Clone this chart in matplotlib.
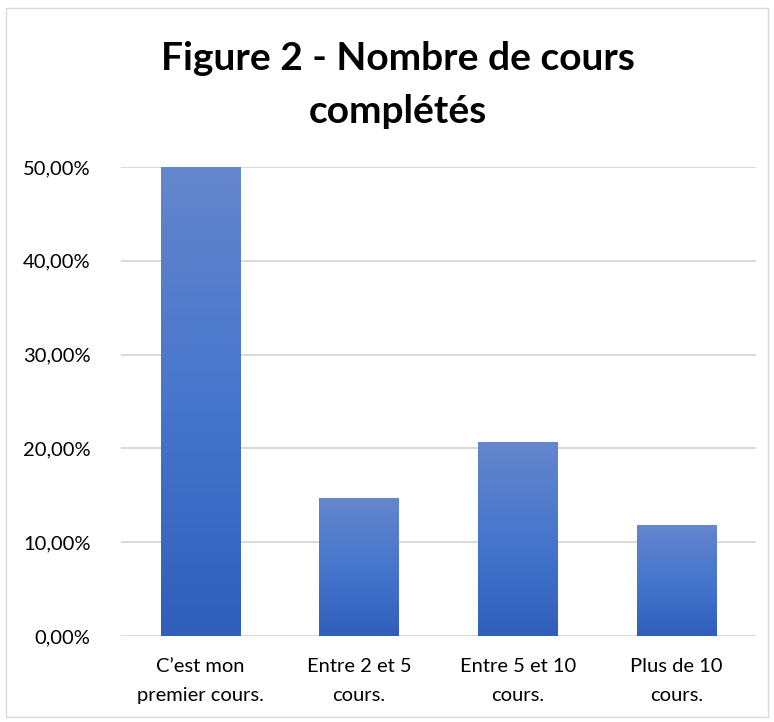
import numpy as np
import matplotlib.pyplot as plt
from matplotlib.colors import LinearSegmentedColormap
from matplotlib.patches import Rectangle
from matplotlib.ticker import FuncFormatter

categories = ["C\u2019est mon\npremier cours.", "Entre 2 et 5\ncours.",
              "Entre 5 et 10\ncours.", "Plus de 10\ncours."]
values = [0.50, 0.1471, 0.2059, 0.1176]
title = "Figure 2 - Nombre de cours\ncomplétés"

plt.rcParams['font.family'] = ['Lato', 'DejaVu Sans']

fig = plt.figure(figsize=(7.74, 7.22), dpi=100)
fig.patches.append(Rectangle((6/774, 1 - 717/722), 762/774, 709/722,
                             transform=fig.transFigure, fill=False,
                             edgecolor='#D9D9D9', linewidth=1.0))
ax = fig.add_axes([121/774, 1 - 636/722, 635/774, 469/722])

x = np.arange(len(values))
bars = ax.bar(x, values, width=0.5, color='none', edgecolor='none')

cmap = LinearSegmentedColormap.from_list('xl', ['#2F5FBA', '#4676CD', '#6486CC'])
grad = np.linspace(0, 1, 256).reshape(-1, 1)
for b in bars:
    x0, w, h = b.get_x(), b.get_width(), b.get_height()
    ax.imshow(grad, cmap=cmap, origin='lower', aspect='auto',
              extent=(x0, x0 + w, 0, h), zorder=3)

ax.set_xlim(-0.5, len(values) - 0.5)
ax.set_ylim(0, 0.5)
ax.set_yticks(np.arange(0, 0.51, 0.1))
ax.yaxis.set_major_formatter(FuncFormatter(lambda v, p: f"{v*100:.2f}%".replace('.', ',')))
ax.set_xticks(x)
ax.set_xticklabels(categories, linespacing=1.85)
ax.tick_params(axis='both', length=0, labelsize=14.5, colors='#000000')
ax.tick_params(axis='y', pad=22)
ax.tick_params(axis='x', pad=16)
ax.grid(axis='y', color='#D9D9D9', linewidth=1.4, zorder=0)
ax.set_axisbelow(True)
for s in ax.spines.values():
    s.set_visible(False)

fig.text(398/774, 1 - 85/722, title, ha='center', va='center',
         fontsize=28, fontweight='bold', linespacing=1.6)

fig.savefig('out.png', dpi=100)
